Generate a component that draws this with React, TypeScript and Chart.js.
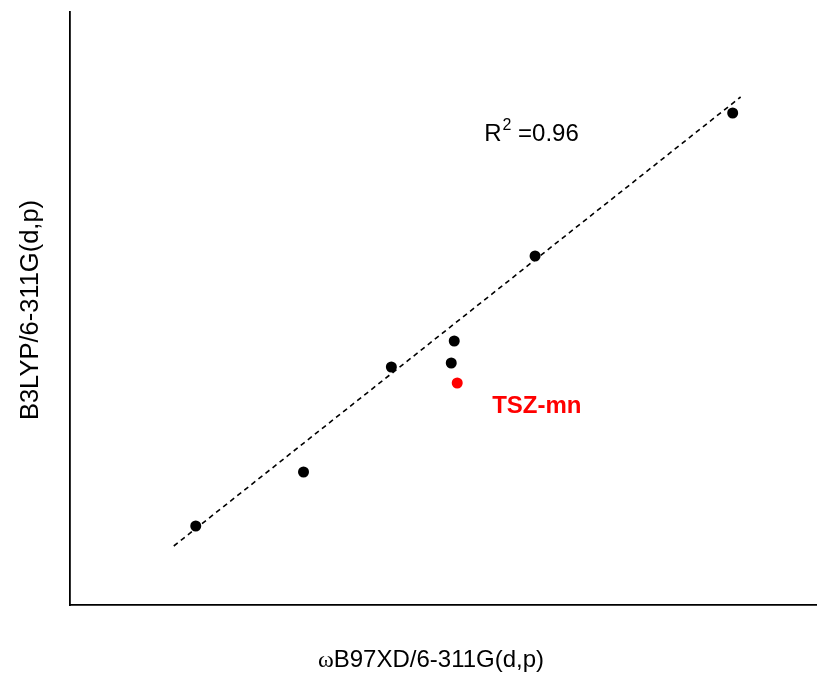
import React, { useEffect, useRef } from "react";
import { Chart, registerables } from "chart.js";

Chart.register(...registerables);

// Data (arbitrary relative energy units)
const xValues = [126, 234, 322, 382, 385, 466, 664];
const yValues = [79, 133, 238, 242, 264, 349, 492];
const highlightX = [388];
const highlightY = [222];
const highlightLabel = "TSZ-mn";
const fitX = [104, 672];
const fitY = [59, 508];
const r2Text = "0.96";
const xTitlePrefix = "ω";
const xTitle = "B97XD/6-311G(d,p)";
const yTitle = "B3LYP/6-311G(d,p)";

const SANS = "'Liberation Sans', Arial, sans-serif";
const SERIF = "'Liberation Serif', 'Times New Roman', serif";

const annotPlugin = {
  id: "annot",
  afterDraw(chart: any) {
    const { ctx, scales } = chart;
    const xs = scales.x;
    const ys = scales.y;
    ctx.save();
    ctx.fillStyle = "#000";
    ctx.textBaseline = "alphabetic";
    ctx.textAlign = "left";
    // R^2 text
    const rx = xs.getPixelForValue(415);
    const ry = ys.getPixelForValue(464);
    ctx.font = "24px " + SANS;
    ctx.fillText("R", rx, ry);
    const wR = ctx.measureText("R").width;
    ctx.font = "16px " + SANS;
    ctx.fillText("2", rx + wR + 1, ry - 11);
    const w2 = ctx.measureText("2").width;
    ctx.font = "24px " + SANS;
    ctx.fillText(" =" + r2Text, rx + wR + 1 + w2, ry);
    // highlight label
    ctx.fillStyle = "#ff0000";
    ctx.font = "bold 24px " + SANS;
    ctx.textBaseline = "middle";
    ctx.fillText(highlightLabel, xs.getPixelForValue(423), ys.getPixelForValue(199));
    // x axis title
    ctx.fillStyle = "#000";
    ctx.textBaseline = "middle";
    ctx.font = "24px " + SERIF;
    const wO = ctx.measureText(xTitlePrefix).width;
    ctx.font = "24px " + SANS;
    const wT = ctx.measureText(xTitle).width;
    const startX = 431 - (wO + wT) / 2;
    ctx.textAlign = "left";
    ctx.font = "24px " + SERIF;
    ctx.fillText(xTitlePrefix, startX, 661);
    ctx.font = "24px " + SANS;
    ctx.fillText(xTitle, startX + wO, 660);
    // y axis title
    ctx.textAlign = "center";
    ctx.font = "25.5px " + SANS;
    ctx.translate(31, 310);
    ctx.rotate(-Math.PI / 2);
    ctx.fillText(yTitle, 0, 0);
    ctx.restore();
  },
};

export default function App() {
  const ref = useRef<HTMLCanvasElement>(null);
  useEffect(() => {
    if (!ref.current) return;
    const chart = new Chart(ref.current, {
      type: "scatter",
      data: {
        datasets: [
          {
            type: "line",
            data: fitX.map((x, i) => ({ x, y: fitY[i] })),
            borderColor: "#000",
            borderWidth: 1.6,
            borderDash: [5, 4],
            pointRadius: 0,
            fill: false,
            order: 2,
          } as any,
          {
            data: xValues.map((x, i) => ({ x, y: yValues[i] })),
            backgroundColor: "#000",
            borderColor: "#000",
            pointRadius: 5.5,
            borderWidth: 0,
            order: 1,
          },
          {
            data: highlightX.map((x, i) => ({ x, y: highlightY[i] })),
            backgroundColor: "#ff0000",
            borderColor: "#ff0000",
            pointRadius: 5.5,
            borderWidth: 0,
            order: 0,
          },
        ],
      },
      options: {
        animation: false,
        responsive: false,
        devicePixelRatio: 1,
        layout: { padding: { left: 70, top: 12, right: 0, bottom: 70 } },
        plugins: { legend: { display: false }, tooltip: { enabled: false } },
        scales: {
          x: {
            type: "linear",
            min: 0,
            max: 748,
            ticks: { display: false },
            grid: { display: false, drawTicks: false },
            border: { display: true, color: "#000", width: 1.8 },
          },
          y: {
            type: "linear",
            min: 0,
            max: 593,
            ticks: { display: false },
            grid: { display: false, drawTicks: false },
            border: { display: true, color: "#000", width: 1.8 },
          },
        },
      },
      plugins: [annotPlugin],
    });
    return () => chart.destroy();
  }, []);
  return (
    <div style={{ position: "absolute", left: 0, top: 0, width: 818, height: 675, overflow: "hidden", background: "#fff" }}>
      <canvas ref={ref} width={822} height={675} style={{ width: 822, height: 675, display: "block" }} />
    </div>
  );
}
